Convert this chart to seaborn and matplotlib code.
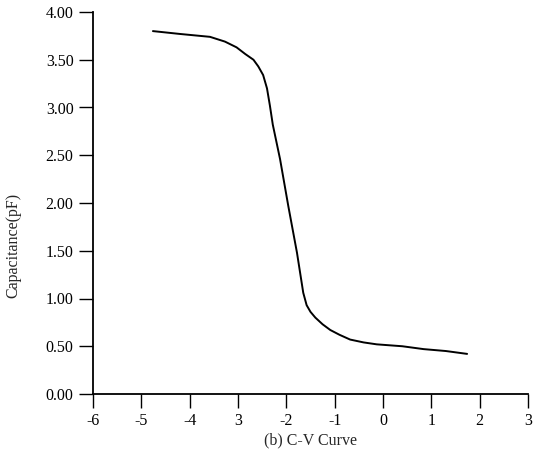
import matplotlib
matplotlib.use("Agg")
import matplotlib.pyplot as plt
import seaborn as sns
import pandas as pd

# Data
voltage = [-4.76, -4.2, -3.58, -3.27, -3.03, -2.85, -2.68, -2.58, -2.48, -2.40, -2.34,
           -2.28, -2.13, -1.96, -1.78, -1.65, -1.58, -1.50, -1.40, -1.25, -1.09,
           -0.90, -0.68, -0.40, -0.13, 0.4, 0.84, 1.30, 1.74]
capacitance = [3.80, 3.77, 3.74, 3.69, 3.63, 3.56, 3.50, 3.43, 3.34, 3.20, 3.02,
               2.82, 2.46, 1.97, 1.48, 1.06, 0.93, 0.86, 0.80, 0.73, 0.67,
               0.62, 0.57, 0.54, 0.52, 0.50, 0.47, 0.45, 0.42]

x_ticks = [-6, -5, -4, -3, -2, -1, 0, 1, 2, 3]
x_tick_labels = ["-6", "-5", "-4", "3", "-2", "-1", "0", "1", "2", "3"]
y_ticks = [0.0, 0.5, 1.0, 1.5, 2.0, 2.5, 3.0, 3.5, 4.0]
y_tick_labels = ["0.00", "0.50", "1.00", "1.50", "2.00", "2.50", "3.00", "3.50", "4.00"]

df = pd.DataFrame({"V": voltage, "C": capacitance})

sns.set_style("ticks")
plt.rcParams["font.family"] = ["Liberation Serif", "DejaVu Serif"]

fig = plt.figure(figsize=(5.36, 4.73), dpi=100)
ax = fig.add_axes([93/536, 1 - 394/473, (528 - 93)/536, (394 - 12)/473])

sns.lineplot(data=df, x="V", y="C", ax=ax, color="black", linewidth=1.4, sort=False)

ax.set_xlim(-6, 3)
ax.set_ylim(0, 4)
ax.set_xticks(x_ticks)
ax.set_xticklabels(x_tick_labels)
ax.set_yticks(y_ticks)
ax.set_yticklabels(y_tick_labels)
ax.tick_params(axis="both", direction="out", length=10, width=1.0, labelsize=11.5,
               colors="black", pad=4)
for s in ["top", "right"]:
    ax.spines[s].set_visible(False)
for s in ["left", "bottom"]:
    ax.spines[s].set_linewidth(1.3)
    ax.spines[s].set_color("black")

ax.set_xlabel("(b) C-V Curve", fontsize=11.5)
ax.xaxis.set_label_coords(0.5, -0.10)
ax.set_ylabel("Capacitance(pF)", fontsize=11.5)
ax.yaxis.set_label_coords(-0.165, 0.39)

fig.savefig("out.png", dpi=100, facecolor="white")
